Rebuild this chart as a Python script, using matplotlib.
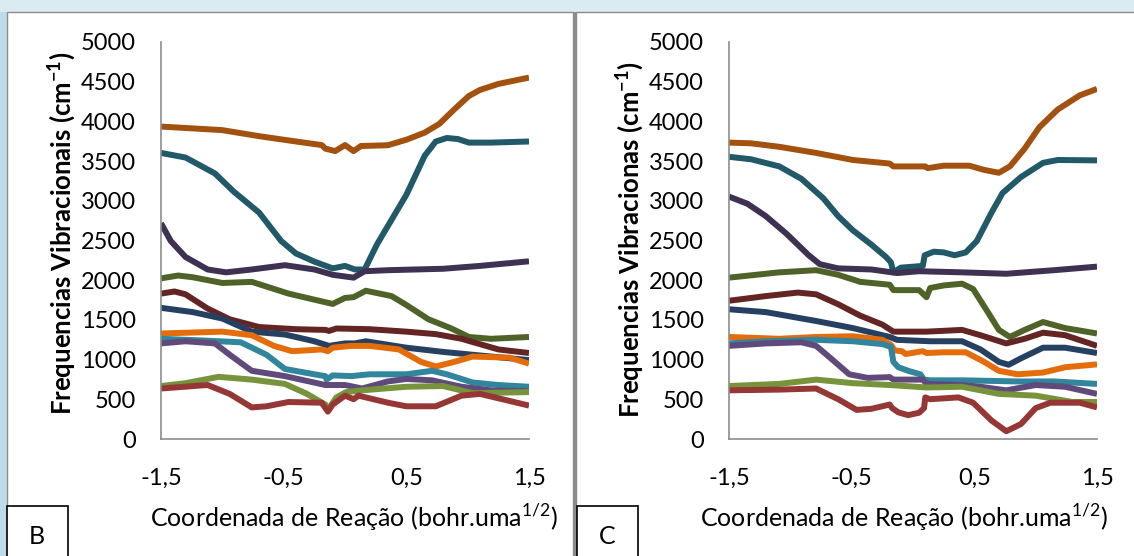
import matplotlib
matplotlib.use('Agg')
import matplotlib.pyplot as plt
from matplotlib.patches import Rectangle

plt.rcParams['font.family'] = ['Lato', 'DejaVu Sans']
plt.rcParams['mathtext.fontset'] = 'custom'
plt.rcParams['mathtext.rm'] = 'Lato'
plt.rcParams['mathtext.bf'] = 'Lato:bold'

colors = ['#a3510f', '#215968', '#3f3151', '#4f6228', '#632523', '#254061',
          '#e46c0a', '#31859c', '#604a7b', '#77933c', '#953735']

# ---- panel B ----
b_x = [
    [-1.5, -1.0, -0.7, -0.4, -0.19, -0.16, -0.08, 0.0, 0.07, 0.13, 0.2, 0.35, 0.5, 0.65, 0.77, 0.89, 1.01, 1.1, 1.25, 1.5],
    [-1.5, -1.3, -1.06, -0.91, -0.7, -0.52, -0.4, -0.25, -0.1, 0.0, 0.08, 0.16, 0.26, 0.38, 0.5, 0.65, 0.74, 0.83, 0.92, 1.01, 1.19, 1.5],
    [-1.5, -1.42, -1.3, -1.12, -0.97, -0.76, -0.49, -0.25, -0.1, 0.07, 0.16, 0.35, 0.8, 1.1, 1.5],
    [-1.5, -1.36, -1.24, -1.0, -0.76, -0.64, -0.46, -0.25, -0.1, 0.0, 0.07, 0.17, 0.38, 0.5, 0.68, 0.86, 1.01, 1.19, 1.5],
    [-1.5, -1.39, -1.3, -1.12, -0.94, -0.7, -0.4, -0.16, -0.13, -0.07, 0.2, 0.5, 0.74, 0.95, 1.25, 1.5],
    [-1.5, -1.24, -1.0, -0.76, -0.49, -0.25, -0.13, 0.0, 0.08, 0.17, 0.5, 0.8, 1.1, 1.5],
    [-1.5, -1.0, -0.76, -0.58, -0.43, -0.19, -0.14, -0.1, 0.05, 0.2, 0.44, 0.62, 0.74, 0.89, 1.04, 1.34, 1.5],
    [-1.5, -1.15, -0.85, -0.64, -0.49, -0.25, -0.16, -0.15, -0.1, 0.05, 0.2, 0.5, 0.71, 0.83, 1.04, 1.25, 1.5],
    [-1.5, -1.3, -1.06, -0.94, -0.76, -0.49, -0.16, 0.0, 0.14, 0.35, 0.5, 0.71, 0.95, 1.19, 1.5],
    [-1.5, -1.3, -1.03, -0.76, -0.49, -0.31, -0.16, -0.14, -0.07, 0.01, 0.14, 0.5, 0.8, 1.04, 1.5],
    [-1.5, -1.12, -0.94, -0.76, -0.64, -0.46, -0.19, -0.14, -0.1, 0.0, 0.07, 0.11, 0.35, 0.5, 0.74, 0.95, 1.1, 1.5],
]
b_y = [
    [3935, 3890, 3814, 3747, 3702, 3657, 3626, 3702, 3626, 3690, 3693, 3700, 3769, 3859, 3970, 4150, 4320, 4396, 4472, 4552],
    [3603, 3545, 3344, 3120, 2851, 2493, 2337, 2234, 2149, 2180, 2135, 2135, 2449, 2762, 3075, 3568, 3747, 3791, 3778, 3733, 3733, 3747],
    [2717, 2493, 2292, 2135, 2099, 2135, 2189, 2135, 2068, 2032, 2113, 2126, 2144, 2180, 2238],
    [2023, 2059, 2037, 1965, 1979, 1920, 1831, 1755, 1701, 1777, 1786, 1867, 1800, 1688, 1508, 1397, 1285, 1262, 1285],
    [1831, 1858, 1822, 1643, 1508, 1410, 1383, 1374, 1361, 1392, 1383, 1352, 1321, 1262, 1128, 1083],
    [1652, 1598, 1517, 1352, 1316, 1231, 1173, 1204, 1204, 1231, 1150, 1097, 1052, 994],
    [1329, 1352, 1307, 1173, 1106, 1128, 1106, 1150, 1173, 1173, 1128, 971, 913, 971, 1038, 1025, 949],
    [1262, 1240, 1218, 1061, 882, 815, 792, 748, 801, 792, 815, 815, 859, 815, 712, 680, 658],
    [1204, 1231, 1204, 1061, 859, 792, 680, 680, 636, 725, 756, 739, 658, 613, 600],
    [667, 703, 783, 748, 694, 568, 434, 367, 524, 591, 613, 658, 667, 577, 591],
    [636, 680, 568, 398, 412, 466, 457, 345, 434, 546, 501, 546, 457, 412, 412, 546, 568, 421],
]

# ---- panel C ----
c_x = [
    [-1.5, -1.32, -1.09, -0.79, -0.49, -0.19, -0.16, 0.1, 0.12, 0.25, 0.46, 0.58, 0.7, 0.79, 0.91, 1.03, 1.18, 1.36, 1.5],
    [-1.5, -1.32, -1.09, -0.91, -0.73, -0.61, -0.49, -0.34, -0.22, -0.18, -0.16, -0.1, 0.08, 0.095, 0.17, 0.25, 0.34, 0.43, 0.52, 0.64, 0.73, 0.88, 1.06, 1.18, 1.5],
    [-1.5, -1.35, -1.2, -1.03, -0.85, -0.76, -0.61, -0.34, -0.13, 0.05, 0.4, 0.76, 1.15, 1.5],
    [-1.5, -1.09, -0.79, -0.61, -0.43, -0.19, -0.16, 0.05, 0.11, 0.14, 0.25, 0.4, 0.49, 0.61, 0.7, 0.79, 0.91, 1.06, 1.24, 1.5],
    [-1.5, -1.2, -0.94, -0.79, -0.61, -0.43, -0.25, -0.16, 0.11, 0.4, 0.55, 0.76, 0.91, 1.06, 1.24, 1.5],
    [-1.5, -1.2, -0.79, -0.49, -0.19, -0.13, 0.14, 0.4, 0.55, 0.7, 0.78, 0.88, 1.06, 1.24, 1.5],
    [-1.5, -1.09, -0.79, -0.49, -0.25, -0.18, -0.15, -0.09, -0.06, 0.08, 0.11, 0.25, 0.43, 0.58, 0.7, 0.85, 1.06, 1.24, 1.5],
    [-1.5, -1.2, -0.79, -0.49, -0.25, -0.18, -0.16, -0.12, -0.04, 0.06, 0.09, 0.14, 0.4, 0.85, 1.15, 1.5],
    [-1.5, -1.2, -0.91, -0.79, -0.67, -0.52, -0.37, -0.19, -0.16, 0.08, 0.11, 0.4, 0.55, 0.76, 1.0, 1.24, 1.5],
    [-1.5, -1.09, -0.79, -0.49, -0.19, 0.11, 0.4, 0.7, 1.0, 1.3, 1.5],
    [-1.5, -1.09, -0.79, -0.61, -0.46, -0.34, -0.19, -0.17, -0.12, -0.04, 0.05, 0.09, 0.1, 0.14, 0.37, 0.49, 0.64, 0.76, 0.88, 1.0, 1.12, 1.36, 1.5],
]
c_y = [
    [3733, 3724, 3680, 3603, 3514, 3469, 3433, 3433, 3411, 3442, 3442, 3389, 3353, 3433, 3657, 3926, 4150, 4328, 4409],
    [3554, 3523, 3433, 3277, 3030, 2807, 2628, 2449, 2292, 2225, 2099, 2158, 2180, 2314, 2359, 2350, 2314, 2350, 2493, 2851, 3098, 3299, 3478, 3514, 3509],
    [3053, 2963, 2807, 2583, 2314, 2202, 2149, 2135, 2090, 2113, 2099, 2081, 2126, 2171],
    [2032, 2099, 2126, 2068, 1979, 1943, 1875, 1875, 1786, 1902, 1934, 1956, 1889, 1598, 1374, 1285, 1374, 1473, 1397, 1329],
    [1741, 1800, 1844, 1822, 1697, 1553, 1441, 1352, 1352, 1374, 1307, 1204, 1262, 1339, 1307, 1173],
    [1634, 1598, 1486, 1397, 1285, 1249, 1231, 1231, 1128, 971, 935, 1016, 1150, 1150, 1083],
    [1285, 1262, 1285, 1294, 1249, 1186, 1115, 1106, 1070, 1106, 1083, 1092, 1092, 971, 859, 815, 837, 904, 940],
    [1204, 1231, 1249, 1231, 1195, 1160, 971, 904, 859, 815, 748, 739, 739, 725, 725, 694],
    [1173, 1204, 1218, 1173, 1016, 815, 770, 779, 748, 748, 694, 680, 658, 613, 680, 658, 568],
    [667, 694, 748, 703, 680, 649, 658, 568, 546, 466, 466],
    [613, 622, 636, 501, 367, 380, 434, 389, 336, 300, 331, 389, 524, 501, 524, 457, 233, 98, 188, 389, 457, 457, 398],
]

x_ticks = [-1.5, -0.5, 0.5, 1.5]
x_ticklabels = ['-1,5', '-0,5', '0,5', '1,5']
y_ticks = [0, 500, 1000, 1500, 2000, 2500, 3000, 3500, 4000, 4500, 5000]

W, H = 1134, 556
fig = plt.figure(figsize=(W / 100, H / 100), dpi=100)
fig.patch.set_facecolor('#dbebf2')


def px_rect(x0, y0, x1, y1, z=-1, **kw):
    fig.add_artist(Rectangle((x0 / W, 1 - y1 / H), (x1 - x0) / W, (y1 - y0) / H,
                             transform=fig.transFigure, zorder=z, **kw))


# left blue strip and white panels
px_rect(0, 12, 7, 560, facecolor='#bcdde8', edgecolor='none')
px_rect(7, 12, 573, 560, facecolor='white', edgecolor='#8c8c8c', linewidth=1)
px_rect(576, 12, 1140, 560, facecolor='white', edgecolor='#8c8c8c', linewidth=1)
px_rect(573, 12, 576, 560, facecolor='#8c8c8c', edgecolor='none')


def make_panel(left_px, xs, ys, ylabel, ylab_x, ylab_y, xlab_x, letter, box_x):
    ax = fig.add_axes([left_px / W, (H - 439) / H, 368 / W, 397 / H])
    ax.set_facecolor('none')
    for xv, yv, c in zip(xs, ys, colors):
        ax.plot(xv, yv, color=c, lw=4.3, solid_joinstyle='round', solid_capstyle='butt')
    ax.set_xlim(-1.5, 1.5)
    ax.set_ylim(0, 5000)
    ax.set_xticks(x_ticks)
    ax.set_xticklabels(x_ticklabels)
    ax.set_yticks(y_ticks)
    ax.tick_params(length=0, labelsize=17)
    ax.tick_params(axis='y', pad=18)
    ax.tick_params(axis='x', pad=21)
    for s in ['top', 'right']:
        ax.spines[s].set_visible(False)
    for s in ['left', 'bottom']:
        ax.spines[s].set_color('#8c8c8c')
        ax.spines[s].set_linewidth(1.2)
    fig.text(xlab_x / W, 1 - 517 / H, 'Coordenada de Reação (bohr.uma$^{1/2}$)',
             ha='center', va='center', fontsize=18)
    fig.text(ylab_x / W, 1 - ylab_y / H, ylabel, rotation=90, ha='center', va='center',
             fontsize=18.5, fontweight='bold')
    px_rect(box_x, 506, box_x + 61, 560, z=2, facecolor='white', edgecolor='black', linewidth=1.2)
    fig.text((box_x + 30) / W, 1 - 537 / H, letter, ha='center', va='center', fontsize=18)
    return ax


make_panel(161, b_x, b_y, r'Frequencias Vibracionais (cm$^{\mathbf{-1}}$)', 62, 233, 354, 'B', 7)
make_panel(729, c_x, c_y, r'Frequencias Vibracionas (cm$^{\mathbf{-1}}$)', 630, 240, 904, 'C', 577)

fig.savefig('out.png', dpi=100, facecolor=fig.get_facecolor())
